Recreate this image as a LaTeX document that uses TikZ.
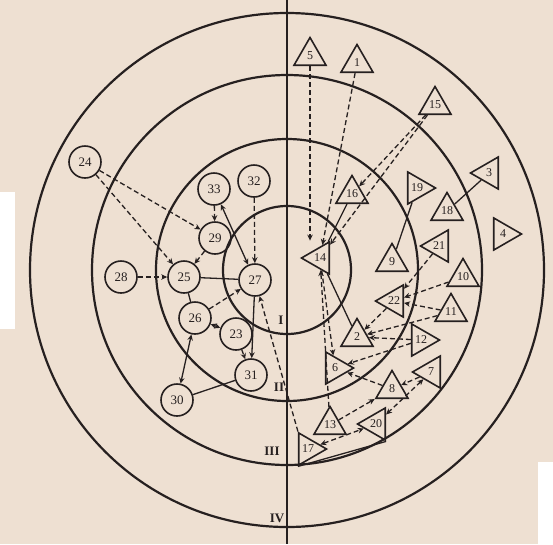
\documentclass[tikz,border=0pt]{standalone}
\usepackage{fontspec}
\setmainfont{Liberation Serif}
\usetikzlibrary{shapes.geometric,arrows.meta}
\definecolor{paper}{RGB}{238,224,210}
\definecolor{ink}{RGB}{38,32,32}
\begin{document}
\begin{tikzpicture}[x=1pt,y=-1pt,
  >={Stealth[length=6pt,width=5.5pt]},
  cnode/.style={circle,draw=ink,line width=1.6pt,minimum size=32pt,inner sep=0pt,font=\fontsize{13}{13}\selectfont,text=ink},
  tri/.style={regular polygon,regular polygon sides=3,draw=ink,line width=1.6pt,minimum size=37pt,inner sep=0pt,font=\fontsize{12}{12}\selectfont,text=ink},
  tup/.style={tri},
  tleft/.style={tri,regular polygon rotate=90},
  tright/.style={tri,regular polygon rotate=-90},
  ring/.style={draw=ink,line width=2.2pt},
  da/.style={draw=ink,line width=1.3pt,dash pattern=on 5pt off 3pt,->},
  dd/.style={draw=ink,line width=1.3pt,dash pattern=on 5pt off 3pt,<->},
  so/.style={draw=ink,line width=1.3pt},
  sa/.style={so,->},
  sd/.style={so,<->},
  rn/.style={font=\bfseries\fontsize{13}{13}\selectfont,text=ink,inner sep=0pt}
]
\fill[paper] (0,0) rectangle (553,544);
\useasboundingbox (0,0) rectangle (553,544);
\fill[white] (0,192) rectangle (15,329);
\fill[white] (538,462) rectangle (553,544);

% rings
\draw[ring] (287,270) circle[radius=257];
\draw[ring] (287,270) circle[radius=195];
\draw[ring] (287,270) circle[radius=131];
\draw[ring] (287,270) circle[radius=64];
\draw[ring] (287,0) -- (287,544);
\node[rn] (rI) at (281,320) {I};
\node[rn] (rII) at (279,387) {II};
\node[rn] (rIII) at (272,451) {III};
\node[rn] (rIV) at (277,518) {IV};

% circle nodes
\node[cnode] (c24) at (85,162) {24};
\node[cnode] (c33) at (214,189) {33};
\node[cnode] (c32) at (254,181) {32};
\node[cnode] (c29) at (215,238) {29};
\node[cnode] (c28) at (121,277) {28};
\node[cnode] (c25) at (184,277) {25};
\node[cnode] (c27) at (255,280) {27};
\node[cnode] (c26) at (195,318) {26};
\node[cnode] (c23) at (236,334) {23};
\node[cnode] (c31) at (251,375) {31};
\node[cnode] (c30) at (177,400) {30};

% triangle nodes
\node[tup] (t5) at (310,56) {5};
\node[tup] (t1) at (357,63) {1};
\node[tup] (t15) at (435,105) {15};
\node[tup] (t16) at (352,194) {16};
\node[tright] (t19) at (417,188) {19};
\node[tleft] (t3) at (489,173) {3};
\node[tup] (t18) at (447,211) {18};
\node[tright] (t4) at (503,234) {4};
\node[tleft] (t21) at (439,246) {21};
\node[tup] (t9) at (392,262) {9};
\node[tup] (t10) at (463,277) {10};
\node[tleft] (t22) at (394,301) {22};
\node[tup] (t11) at (451,312) {11};
\node[tleft] (t14) at (320,258) {14};
\node[tup] (t2) at (357,337) {2};
\node[tright] (t12) at (421,340) {12};
\node[tright] (t6) at (335,368) {6};
\node[tleft] (t7) at (431,372) {7};
\node[tup] (t8) at (392,389) {8};
\node[tup] (t13) at (330,425) {13};
\node[tleft] (t20) at (376,424) {20};
\node[tright] (t17) at (308,449) {17};

% left connectors
\draw[da] (c24) -- (c29);
\draw[da] (c24) -- (c25);
\draw[da] (c28) -- (c25);
\draw[so] (c25) -- (c27);
\draw[da] (c33) -- (c29);
\draw[sd] (c27) -- (c33);
\draw[da] (c29) -- (c25);
\draw[da] (c32) -- (c27);
\draw[da] (c26) -- (c27);
\draw[so] (c25) -- (c26);
\draw[dd] (c23) -- (c26);
\draw[da] (c23) -- (c31);
\draw[sa] (c27) -- (c31);
\draw[sd] (c26) -- (c30);
\draw[so] (c30) -- (c31);
\draw[da] (t17.corner 2) -- (c27);

% right connectors
\draw[da] (t5.south) -- (t5.south |- t14.corner 3);
\draw[da] (t1) -- (t14);
\draw[da] (t15) -- (t14);
\draw[da] (t15) -- (t16);
\draw[so] (t16) -- (t14);
\draw[so] (t14) -- (t2);
\draw[da] (t13) -- (t14);
\draw[da] (t14) -- (t6);
\draw[so] (t19) -- (t9);
\draw[so] (t3) -- (t18);
\draw[da] (t21) -- (t22);
\draw[da] (t10) -- (t22);
\draw[da] (t11) -- (t22);
\draw[da] (t22) -- (t2);
\draw[da] (t11) -- (t2);
\draw[da] (t12) -- (t2);
\draw[da] (t12) -- (t6);
\draw[da] (t8) -- (t6);
\draw[da] (t7) -- (t8);
\draw[da] (t13) -- (t8);
\draw[dd] (t7) -- (t20);
\draw[dd] (t17) -- (t20);
\draw[so] (t17.corner 3) -- (t20.corner 2);
\end{tikzpicture}
\end{document}
